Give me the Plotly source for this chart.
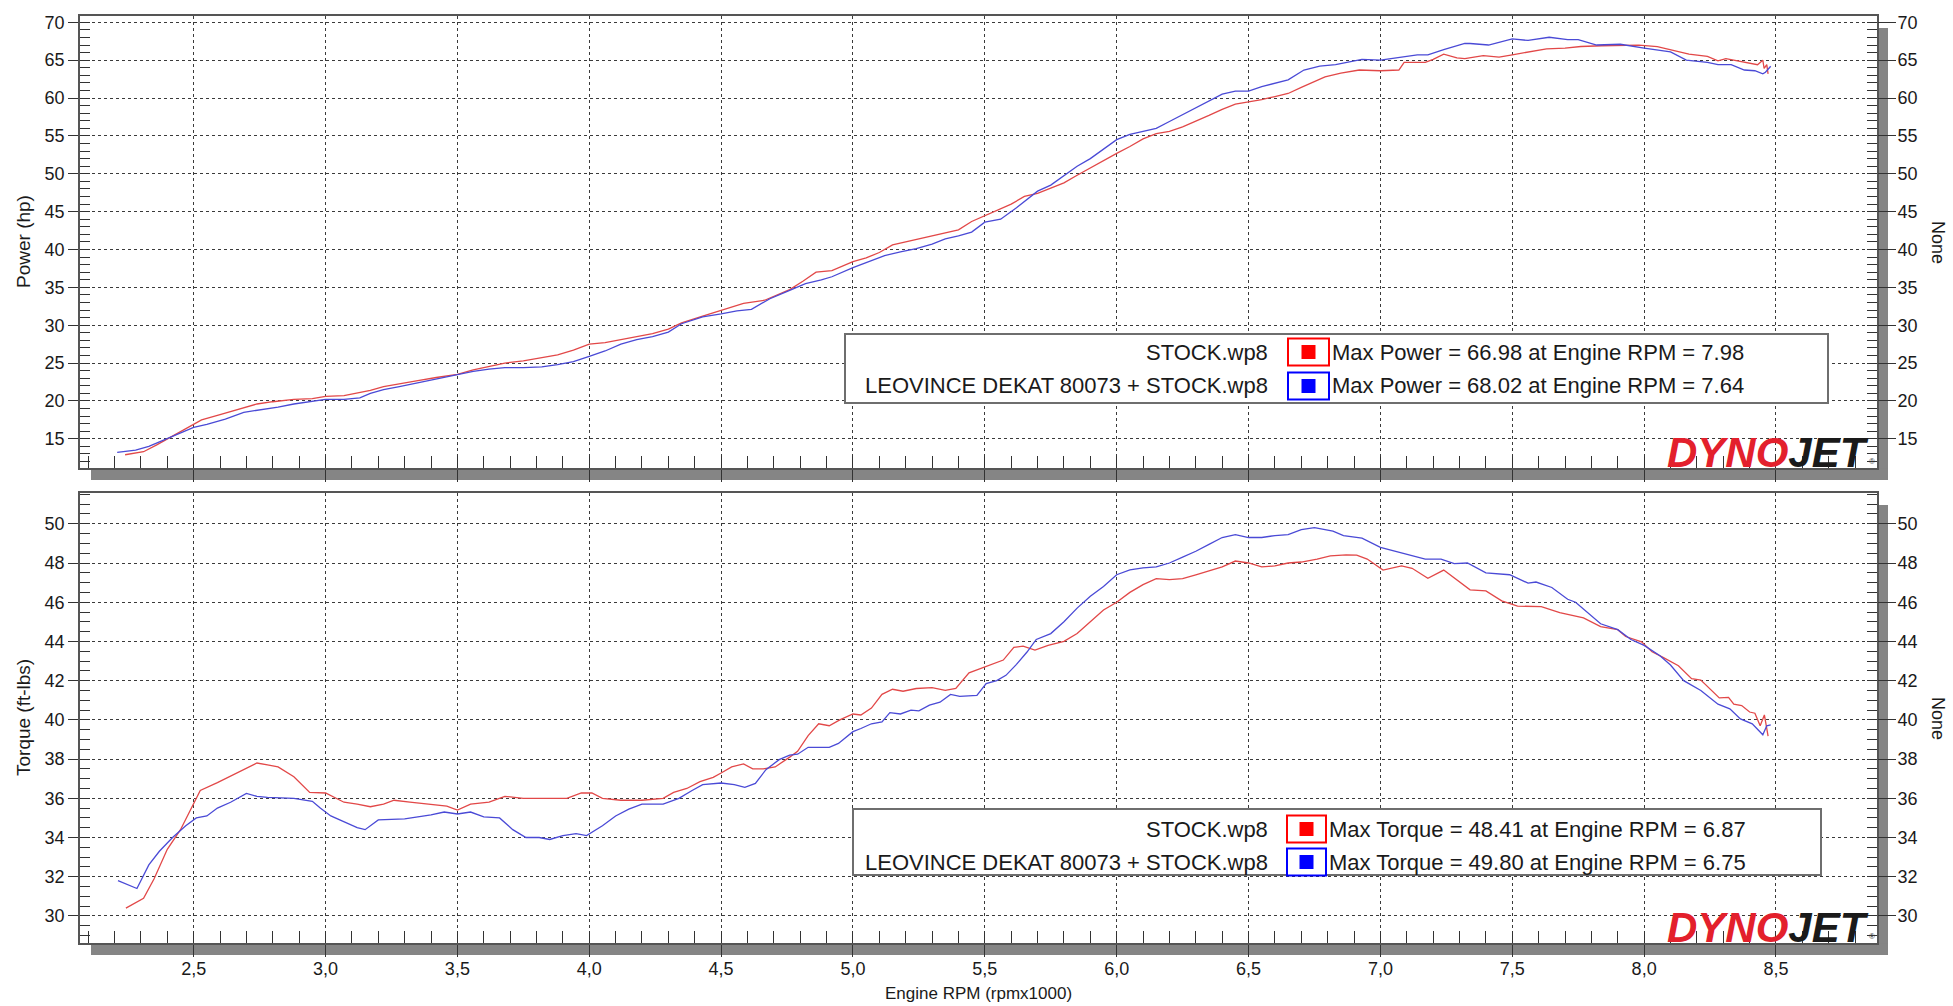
import plotly.graph_objects as go

# ---------------- data ----------------
rpm_power_stock = [2.24, 2.31, 2.36, 2.40, 2.45, 2.50, 2.53, 2.60, 2.67, 2.74, 2.80, 2.88, 2.95, 3.00, 3.07, 3.12,
                   3.17, 3.22, 3.28, 3.35, 3.42, 3.50, 3.56, 3.62, 3.68, 3.75, 3.82, 3.88, 3.94, 4.00, 4.06, 4.12,
                   4.18, 4.24, 4.30, 4.35, 4.43, 4.50, 4.585, 4.665, 4.71, 4.76, 4.81, 4.86, 4.92, 5.00, 5.05, 5.10,
                   5.15, 5.20, 5.25, 5.30, 5.35, 5.40, 5.45, 5.50, 5.55, 5.60, 5.65, 5.70, 5.75, 5.80, 5.85, 5.90,
                   5.95, 6.00, 6.05, 6.10, 6.15, 6.20, 6.25, 6.30, 6.35, 6.40, 6.45, 6.50, 6.55, 6.60, 6.65, 6.70,
                   6.75, 6.79, 6.85, 6.92, 7.00, 7.07, 7.09, 7.17, 7.20, 7.24, 7.29, 7.32, 7.39, 7.45, 7.50, 7.56,
                   7.63, 7.70, 7.76, 7.84, 7.91, 7.98, 8.05, 8.10, 8.17, 8.24, 8.28, 8.31, 8.35, 8.38, 8.43, 8.45,
                   8.455, 8.465, 8.47]
power_stock = [12.9, 13.3, 14.2, 15.0, 16.0, 17.0, 17.5, 18.2, 18.9, 19.6, 19.9, 20.2, 20.3, 20.6, 20.7, 21.0,
               21.4, 21.9, 22.3, 22.7, 23.1, 23.5, 24.1, 24.6, 25.0, 25.3, 25.7, 26.1, 26.7, 27.5, 27.7, 28.1,
               28.4, 28.9, 29.5, 30.3, 31.2, 32.0, 32.9, 33.3, 34.0, 34.7, 35.8, 37.0, 37.2, 38.4, 38.9, 39.6,
               40.6, 41.0, 41.4, 41.9, 42.3, 42.6, 43.7, 44.5, 45.3, 46.0, 47.0, 47.4, 48.1, 48.8, 49.8, 50.8,
               51.8, 52.7, 53.6, 54.6, 55.3, 55.6, 56.2, 56.9, 57.7, 58.5, 59.2, 59.5, 59.8, 60.2, 60.6, 61.4,
               62.2, 62.8, 63.3, 63.7, 63.6, 63.7, 64.7, 64.7, 65.1, 65.8, 65.3, 65.2, 65.6, 65.4, 65.7, 66.1,
               66.5, 66.6, 66.8, 66.9, 66.9, 66.98, 66.8, 66.4, 65.8, 65.5, 64.9, 65.2, 64.9, 64.7, 64.4, 65.0,
               63.9, 64.4, 63.2]

rpm_power_leo = [2.21, 2.28, 2.33, 2.40, 2.45, 2.50, 2.55, 2.62, 2.69, 2.75, 2.82, 2.88, 2.95, 3.00, 3.07, 3.13,
                 3.17, 3.22, 3.28, 3.35, 3.42, 3.50, 3.56, 3.62, 3.68, 3.75, 3.82, 3.88, 3.94, 4.00, 4.06, 4.12,
                 4.18, 4.24, 4.30, 4.35, 4.43, 4.50, 4.56, 4.615, 4.685, 4.76, 4.82, 4.88, 4.92, 5.00, 5.08, 5.12,
                 5.18, 5.24, 5.30, 5.35, 5.40, 5.45, 5.50, 5.56, 5.62, 5.66, 5.70, 5.75, 5.80, 5.85, 5.90, 5.95,
                 6.00, 6.05, 6.10, 6.15, 6.20, 6.25, 6.30, 6.35, 6.40, 6.45, 6.50, 6.55, 6.60, 6.65, 6.71, 6.77,
                 6.83, 6.93, 7.00, 7.07, 7.14, 7.18, 7.24, 7.32, 7.34, 7.41, 7.50, 7.56, 7.64, 7.71, 7.75, 7.82,
                 7.91, 8.00, 8.10, 8.16, 8.24, 8.28, 8.33, 8.38, 8.42, 8.45, 8.46, 8.48]
power_leo = [13.2, 13.5, 14.0, 15.0, 15.8, 16.5, 16.9, 17.6, 18.5, 18.8, 19.2, 19.6, 20.0, 20.2, 20.2, 20.4,
             21.0, 21.5, 21.9, 22.4, 22.9, 23.5, 23.9, 24.2, 24.4, 24.4, 24.5, 24.8, 25.2, 25.9, 26.6, 27.5,
             28.1, 28.5, 29.1, 30.2, 31.1, 31.5, 31.9, 32.1, 33.5, 34.6, 35.5, 36.0, 36.4, 37.6, 38.7, 39.2,
             39.7, 40.1, 40.7, 41.4, 41.8, 42.3, 43.6, 44.0, 45.5, 46.6, 47.7, 48.5, 49.7, 51.0, 52.0, 53.2,
             54.5, 55.2, 55.6, 56.0, 56.9, 57.8, 58.8, 59.7, 60.5, 60.9, 60.9, 61.5, 62.0, 62.4, 63.7, 64.2,
             64.4, 65.1, 65.0, 65.4, 65.7, 65.7, 66.4, 67.2, 67.2, 67.0, 67.8, 67.6, 68.02, 67.7, 67.7, 67.0,
             67.1, 66.6, 66.1, 65.0, 64.7, 64.4, 64.4, 63.7, 63.6, 63.2, 63.4, 64.2]

rpm_torque_stock = [2.243, 2.31, 2.35, 2.40, 2.45, 2.49, 2.525, 2.59, 2.65, 2.70, 2.74, 2.78, 2.82, 2.88, 2.94,
                    3.00, 3.07, 3.12, 3.17, 3.22, 3.26, 3.32, 3.40, 3.46, 3.50, 3.55, 3.62, 3.68, 3.75, 3.85,
                    3.915, 3.97, 4.01, 4.05, 4.12, 4.20, 4.28, 4.32, 4.37, 4.42, 4.47, 4.50, 4.54, 4.585, 4.62,
                    4.66, 4.705, 4.76, 4.79, 4.83, 4.87, 4.91, 4.95, 5.00, 5.03, 5.07, 5.11, 5.15, 5.19, 5.24,
                    5.30, 5.35, 5.39, 5.44, 5.49, 5.57, 5.61, 5.645, 5.69, 5.74, 5.80, 5.85, 5.90, 5.95, 6.00,
                    6.05, 6.10, 6.15, 6.20, 6.25, 6.30, 6.35, 6.40, 6.45, 6.50, 6.55, 6.60, 6.65, 6.70, 6.76,
                    6.81, 6.87, 6.91, 6.95, 7.01, 7.08, 7.12, 7.18, 7.24, 7.34, 7.40, 7.46, 7.52, 7.61, 7.68,
                    7.77, 7.835, 7.90, 7.93, 7.99, 8.03, 8.07, 8.13, 8.18, 8.215, 8.285, 8.32, 8.34, 8.37, 8.40,
                    8.42, 8.44, 8.456, 8.47]
torque_stock = [30.4, 30.9, 31.9, 33.4, 34.4, 35.5, 36.4, 36.8, 37.2, 37.5, 37.8, 37.7, 37.6, 37.1, 36.3,
                36.27, 35.8, 35.7, 35.57, 35.7, 35.9, 35.8, 35.7, 35.6, 35.4, 35.7, 35.8, 36.1, 36.0, 36.0,
                36.0, 36.27, 36.27, 36.0, 35.9, 35.9, 36.0, 36.3, 36.5, 36.85, 37.07, 37.29, 37.6, 37.75, 37.5,
                37.5, 37.6, 38.1, 38.4, 39.2, 39.8, 39.7, 40.0, 40.3, 40.25, 40.6, 41.3, 41.56, 41.46, 41.6,
                41.64, 41.5, 41.6, 42.4, 42.66, 43.05, 43.7, 43.76, 43.56, 43.8, 44.0, 44.4, 45.0, 45.6, 46.0,
                46.5, 46.9, 47.2, 47.15, 47.2, 47.4, 47.6, 47.8, 48.1, 48.0, 47.8, 47.85, 48.0, 48.05, 48.2,
                48.36, 48.41, 48.4, 48.2, 47.64, 47.85, 47.73, 47.22, 47.64, 46.63, 46.58, 46.07, 45.8, 45.78, 45.47,
                45.2, 44.76, 44.6, 44.25, 43.98, 43.47, 43.2, 42.76, 42.1, 42.03, 41.12, 41.15, 40.8, 40.73, 40.4,
                40.34, 39.7, 40.25, 39.17]

rpm_torque_leo = [2.213, 2.285, 2.33, 2.37, 2.42, 2.47, 2.51, 2.55, 2.59, 2.64, 2.70, 2.74, 2.78, 2.88, 2.95,
                  2.98, 3.02, 3.07, 3.12, 3.15, 3.20, 3.30, 3.40, 3.45, 3.50, 3.55, 3.60, 3.66, 3.71, 3.76,
                  3.81, 3.85, 3.90, 3.95, 3.99, 4.05, 4.10, 4.15, 4.20, 4.28, 4.34, 4.39, 4.43, 4.50, 4.55,
                  4.59, 4.63, 4.67, 4.72, 4.76, 4.79, 4.83, 4.875, 4.91, 4.945, 5.00, 5.03, 5.07, 5.11, 5.14,
                  5.18, 5.22, 5.25, 5.29, 5.33, 5.37, 5.405, 5.47, 5.505, 5.545, 5.58, 5.62, 5.66, 5.695, 5.75,
                  5.80, 5.85, 5.90, 5.95, 6.00, 6.05, 6.10, 6.15, 6.20, 6.25, 6.30, 6.35, 6.40, 6.45, 6.50,
                  6.55, 6.60, 6.65, 6.70, 6.75, 6.82, 6.86, 6.93, 7.00, 7.08, 7.17, 7.23, 7.28, 7.33, 7.40,
                  7.49, 7.56, 7.59, 7.65, 7.71, 7.74, 7.835, 7.90, 7.95, 8.00, 8.06, 8.10, 8.15, 8.215, 8.28,
                  8.325, 8.365, 8.41, 8.45, 8.465, 8.48]
torque_leo = [31.8, 31.4, 32.6, 33.3, 34.0, 34.6, 35.0, 35.1, 35.5, 35.8, 36.25, 36.1, 36.05, 36.0, 35.85,
              35.5, 35.1, 34.8, 34.5, 34.4, 34.9, 34.95, 35.15, 35.3, 35.2, 35.3, 35.05, 35.0, 34.4, 34.0,
              34.0, 33.9, 34.1, 34.2, 34.1, 34.6, 35.1, 35.45, 35.7, 35.7, 36.0, 36.4, 36.7, 36.78, 36.7,
              36.56, 36.76, 37.46, 37.97, 38.2, 38.25, 38.6, 38.6, 38.6, 38.8, 39.4, 39.56, 39.8, 39.9, 40.37,
              40.3, 40.5, 40.46, 40.75, 40.9, 41.3, 41.2, 41.25, 41.85, 42.0, 42.27, 42.83, 43.46, 44.1, 44.4,
              45.0, 45.7, 46.3, 46.8, 47.4, 47.65, 47.75, 47.8, 48.0, 48.3, 48.6, 48.95, 49.3, 49.45, 49.3,
              49.3, 49.4, 49.45, 49.7, 49.8, 49.63, 49.4, 49.27, 48.8, 48.5, 48.2, 48.2, 47.97, 48.0, 47.5,
              47.4, 46.97, 47.03, 46.75, 46.15, 46.0, 44.9, 44.6, 44.1, 43.8, 43.27, 42.8, 42.0, 41.5, 40.8,
              40.56, 40.05, 39.8, 39.24, 39.7, 39.75]

run_names = ["STOCK.wp8", "LEOVINCE DEKAT 80073 + STOCK.wp8"]
max_power = [66.98, 68.02]
max_power_rpm = [7.98, 7.64]
max_torque = [48.41, 49.80]
max_torque_rpm = [6.87, 6.75]

x_title = "Engine RPM (rpmx1000)"
power_title = "Power (hp)"
torque_title = "Torque (ft-lbs)"
right_title = "None"

# ---------------- layout helpers ----------------
W, H = 1953, 1006
ML, MR, MT, MB = 80, 76, 16, 63
PW = W - ML - MR
PH = H - MT - MB


def px(x):
    return (x - ML) / PW


def py(y):
    return (H - MB - y) / PH


TOP = (16, 468)
BOT = (493, 943)

RED_LINE = "#e24848"
BLUE_LINE = "#4a4ad6"
FONT = "Liberation Sans, Arial, sans-serif"
GRID = "#3a3a3a"
FRAME = "#555555"
SHADOW = "#858585"
TXT = "#1a1a1a"

fig = go.Figure()
series = [
    (rpm_power_stock, power_stock, RED_LINE, "x", "y", run_names[0]),
    (rpm_power_leo, power_leo, BLUE_LINE, "x", "y", run_names[1]),
    (rpm_torque_stock, torque_stock, RED_LINE, "x2", "y2", run_names[0]),
    (rpm_torque_leo, torque_leo, BLUE_LINE, "x2", "y2", run_names[1]),
]
for xs, ys, col, xa, ya, nm in series:
    fig.add_trace(go.Scatter(x=xs, y=ys, mode="lines", line=dict(color=col, width=1.3),
                             xaxis=xa, yaxis=ya, name=nm, showlegend=False))
# transparent copies so that the right-hand (mirrored) value axes are drawn
fig.add_trace(go.Scatter(x=rpm_power_stock, y=power_stock, mode="lines", opacity=0, line=dict(width=0),
                         xaxis="x", yaxis="y3", hoverinfo="skip", showlegend=False))
fig.add_trace(go.Scatter(x=rpm_torque_stock, y=torque_stock, mode="lines", opacity=0, line=dict(width=0),
                         xaxis="x2", yaxis="y4", hoverinfo="skip", showlegend=False))

xrange = [2.069, 8.883]
prange = [11.15, 70.83]
trange = [28.62, 51.57]

tickfont = dict(family=FONT, size=18, color=TXT)

xcommon = dict(range=xrange, tick0=0, dtick=0.5, ticks="outside", ticklen=12, tickcolor="#333333",
               minor=dict(dtick=0.1, ticks="inside", ticklen=12, tickcolor="#333333", showgrid=False),
               showgrid=True, gridcolor=GRID, griddash="3px,3px", gridwidth=1,
               showline=True, linecolor=FRAME, linewidth=1.6, mirror=True, zeroline=False,
               tickfont=tickfont, tickformat=".1f")


def ycommon(rng, dt, mdt):
    return dict(range=rng, tick0=0, dtick=dt, ticks="outside", ticklen=10, tickcolor="#333333",
                minor=dict(dtick=mdt, ticks="inside", ticklen=10, tickcolor="#333333", showgrid=False),
                showgrid=True, gridcolor=GRID, griddash="3px,3px", gridwidth=1,
                showline=True, linecolor=FRAME, linewidth=1.6, mirror=True, zeroline=False,
                tickfont=tickfont)


def yright(rng, dt, mdt, over):
    return dict(range=rng, tick0=0, dtick=dt, ticks="outside", ticklen=18, tickcolor="#333333",
                minor=dict(dtick=mdt, ticks="inside", ticklen=10, tickcolor="#333333", showgrid=False),
                showgrid=False, showline=False, zeroline=False, overlaying=over, side="right",
                anchor="x" if over == "y" else "x2", tickfont=tickfont, ticklabelstandoff=-2)


fig.update_layout(
    width=W, height=H, autosize=False,
    margin=dict(l=ML, r=MR, t=MT, b=MB, pad=0),
    paper_bgcolor="white", plot_bgcolor="white",
    separators=",.",
    showlegend=False,
    hovermode=False,
    xaxis=dict(xcommon, domain=[0, 1], anchor="y", showticklabels=False),
    xaxis2=dict(xcommon, domain=[0, 1], anchor="y2", matches="x", showticklabels=True,
                ticklabelstandoff=-3),
    yaxis=dict(ycommon(prange, 5, 1), domain=[py(TOP[1]), py(TOP[0])], anchor="x"),
    yaxis2=dict(ycommon(trange, 2, 0.5), domain=[py(BOT[1]), py(BOT[0])], anchor="x2"),
    yaxis3=yright(prange, 5, 1, "y"),
    yaxis4=yright(trange, 2, 0.5, "y2"),
)

shapes = []
# drop shadows around both plot frames
for (t, b) in (TOP, BOT):
    shapes.append(dict(type="rect", xref="paper", yref="paper", layer="below",
                       x0=px(1877.5), x1=px(1888), y0=py(b + 12), y1=py(t + 12),
                       fillcolor=SHADOW, line=dict(width=0)))
    shapes.append(dict(type="rect", xref="paper", yref="paper", layer="below",
                       x0=px(91), x1=px(1888), y0=py(b + 12), y1=py(b + 0.8),
                       fillcolor=SHADOW, line=dict(width=0)))

annotations = []
LEG_FS = 22


def legend_box(x0, x1, y0, y1, rows, label_right, sq_x0, sq_x1, texts):
    shapes.append(dict(type="rect", xref="paper", yref="paper", layer="above",
                       x0=px(x0), x1=px(x1), y0=py(y1), y1=py(y0),
                       fillcolor="white", line=dict(color="#6e6e6e", width=2)))
    cols = ["#ff0000", "#0000ff"]
    for i, (ry, name, txt) in enumerate(zip(rows, run_names, texts)):
        sq_h = 27
        shapes.append(dict(type="rect", xref="paper", yref="paper", layer="above",
                           x0=px(sq_x0), x1=px(sq_x1), y0=py(ry + sq_h / 2), y1=py(ry - sq_h / 2),
                           fillcolor="white", line=dict(color=cols[i], width=2)))
        cx = (sq_x0 + sq_x1) / 2
        shapes.append(dict(type="rect", xref="paper", yref="paper", layer="above",
                           x0=px(cx - 7), x1=px(cx + 7), y0=py(ry + 7), y1=py(ry - 7),
                           fillcolor=cols[i], line=dict(width=0)))
        annotations.append(dict(xref="paper", yref="paper", x=px(label_right), y=py(ry),
                                xanchor="right", yanchor="middle", showarrow=False, text=name,
                                font=dict(family=FONT, size=LEG_FS, color=TXT)))
        annotations.append(dict(xref="paper", yref="paper", x=px(sq_x1 + 1), y=py(ry),
                                xanchor="left", yanchor="middle", showarrow=False, text=txt,
                                font=dict(family=FONT, size=LEG_FS, color=TXT)))


power_texts = ["Max Power = %.2f at Engine RPM = %.2f" % (p, r) for p, r in zip(max_power, max_power_rpm)]
torque_texts = ["Max Torque = %.2f at Engine RPM = %.2f" % (t, r) for t, r in zip(max_torque, max_torque_rpm)]
legend_box(845, 1828, 334, 403, [352, 386], 1270, 1288, 1329, power_texts)
legend_box(853, 1821, 809, 875, [829, 862], 1270, 1287, 1326, torque_texts)

# DYNOJET marks
for (t, b) in (TOP, BOT):
    annotations.append(dict(xref="paper", yref="paper", x=px(1871), y=py(b), xanchor="right", yanchor="bottom",
                            yshift=-10, showarrow=False,
                            text="<b><i><span style='color:#e3202c'>DYNO</span>"
                                 "<span style='color:#1a1a1a'>JET</span></i></b>",
                            font=dict(family=FONT, size=42)))
    annotations.append(dict(xref="paper", yref="paper", x=px(1877), y=py(b), xanchor="right", yanchor="bottom",
                            showarrow=False, text="®", font=dict(family=FONT, size=8, color="#333333")))

# axis titles
annotations.append(dict(xref="paper", yref="paper", x=px(23), y=py((TOP[0] + TOP[1]) / 2), textangle=-90,
                        xanchor="center", yanchor="middle",
                        showarrow=False, text=power_title, font=dict(family=FONT, size=19, color=TXT)))
annotations.append(dict(xref="paper", yref="paper", x=px(23), y=py((BOT[0] + BOT[1]) / 2), textangle=-90,
                        xanchor="center", yanchor="middle",
                        showarrow=False, text=torque_title, font=dict(family=FONT, size=19, color=TXT)))
for (t, b) in (TOP, BOT):
    annotations.append(dict(xref="paper", yref="paper", x=px(1938), y=py((t + b) / 2), textangle=90,
                            xanchor="center", yanchor="middle",
                            showarrow=False, text=right_title, font=dict(family=FONT, size=18, color=TXT)))
annotations.append(dict(xref="paper", yref="paper", x=px(978), y=py(993), xanchor="center", yanchor="middle",
                        showarrow=False, text=x_title, font=dict(family=FONT, size=17, color=TXT)))

fig.update_layout(shapes=shapes, annotations=annotations)
# remove the browser's default page margin so the 1953x1006 figure fills the window exactly,
# and hide the interactive mode bar
fig.write_html("out.html", config={"displayModeBar": False},
               post_script="document.body.style.margin='0';document.body.style.overflow='hidden';")
